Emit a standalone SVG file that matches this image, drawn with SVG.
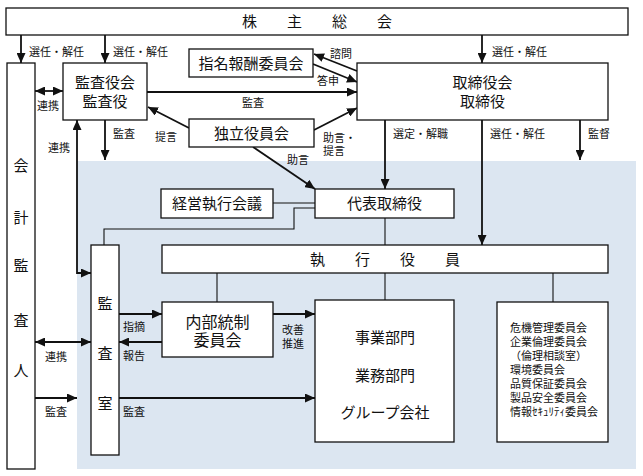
<svg xmlns="http://www.w3.org/2000/svg" width="643" height="476" viewBox="0 0 643 476">
<style>
text{font-family:"Liberation Serif","Noto Sans CJK JP",serif;fill:#111}
.box{fill:#fff;stroke:#111;stroke-width:1.3}
.t{font-size:15px;text-anchor:middle}
.t16{font-size:16px;text-anchor:middle}
.s{font-size:11px}
.c{font-size:11px}
.arr{stroke:#111;stroke-width:1.8;fill:none;marker-end:url(#ah)}
.arr2{stroke:#111;stroke-width:1.8;fill:none;marker-end:url(#ah);marker-start:url(#ah)}
.ln{stroke:#111;stroke-width:1.1;fill:none}
</style>
<defs>
<marker id="ah" markerUnits="userSpaceOnUse" markerWidth="10" markerHeight="9" refX="10" refY="4.5" orient="auto-start-reverse" viewBox="0 0 10 9">
<path d="M0,0 L10,4.5 L0,9 z" fill="#111"/>
</marker>
</defs>
<rect width="643" height="476" fill="#fff"/>
<rect id="bg" x="77" y="161" width="559" height="308" fill="#dce6f1"/>

<g id="connectors">
<line class="arr" x1="21" y1="35" x2="21" y2="63"/>
<line class="arr" x1="105" y1="35" x2="105" y2="63"/>
<line class="arr" x1="482" y1="35" x2="482" y2="63"/>
<line class="arr2" x1="35" y1="91" x2="63" y2="91"/>
<line class="arr" x1="357" y1="71" x2="314" y2="54"/>
<line class="arr" x1="313" y1="64" x2="357" y2="82"/>
<line class="arr" x1="147" y1="92" x2="357" y2="92"/>
<line class="arr" x1="189" y1="128" x2="148" y2="107"/>
<line class="arr" x1="314" y1="130" x2="357" y2="108"/>
<line class="arr" x1="253" y1="147" x2="315" y2="189"/>
<line class="arr" x1="105" y1="120" x2="105" y2="160"/>
<path class="arr2" d="M77,120 L77,273 L91,273"/>
<line class="arr" x1="385" y1="120" x2="385" y2="189"/>
<line class="arr" x1="482" y1="120" x2="482" y2="245"/>
<line class="arr" x1="580" y1="120" x2="580" y2="160"/>
<line class="ln" x1="273" y1="203" x2="315" y2="203"/>
<path class="ln" d="M315,208 L294,208 L294,229 L104,229 L104,245"/>
<line class="ln" x1="385" y1="218" x2="385" y2="245"/>
<line class="ln" x1="217" y1="273" x2="217" y2="302"/>
<line class="ln" x1="385" y1="273" x2="385" y2="300"/>
<line class="ln" x1="553" y1="273" x2="553" y2="302"/>
<line class="arr2" x1="35" y1="342" x2="91" y2="342"/>
<line class="arr" x1="35" y1="398" x2="77" y2="398"/>
<line class="arr" x1="119" y1="314" x2="162" y2="314"/>
<line class="arr" x1="162" y1="342" x2="119" y2="342"/>
<line class="arr" x1="273" y1="314" x2="315" y2="314"/>
<line class="arr" x1="119" y1="398" x2="315" y2="398"/>
</g>

<g id="labels">
<text class="s" x="29" y="56">選任・解任</text>
<text class="s" x="113" y="56">選任・解任</text>
<text class="s" x="492" y="56">選任・解任</text>
<text class="s" x="37" y="110">連携</text>
<text class="s" x="330" y="58">諮問</text>
<text class="s" x="317" y="85">答申</text>
<text class="s" x="242" y="107">監査</text>
<text class="s" x="113" y="138">監査</text>
<text class="s" x="155" y="141">提言</text>
<text class="s" x="323" y="142">助言・</text>
<text class="s" x="323" y="155">提言</text>
<text class="s" x="287" y="164">助言</text>
<text class="s" x="48" y="152">連携</text>
<text class="s" x="393" y="138">選定・解職</text>
<text class="s" x="490" y="138">選任・解任</text>
<text class="s" x="588" y="138">監督</text>
<text class="s" x="45" y="361">連携</text>
<text class="s" x="45" y="416">監査</text>
<text class="s" x="123" y="331">指摘</text>
<text class="s" x="123" y="360">報告</text>
<text class="s" x="282" y="334">改善</text>
<text class="s" x="282" y="348">推進</text>
<text class="s" x="123" y="416">監査</text>
</g>

<g id="shareholders">
<rect class="box" x="6" y="8" width="622" height="27"/>
<text class="t" x="317" y="26.5">株　　主　　総　　会</text>
</g>
<g id="auditor">
<rect class="box" x="7" y="63" width="28" height="406"/>
<text class="t" x="21" y="170.5">会</text>
<text class="t" x="21" y="222.5">計</text>
<text class="t" x="21" y="270.5">監</text>
<text class="t" x="21" y="325.5">査</text>
<text class="t" x="21" y="375.5">人</text>
</g>
<g id="kansayaku">
<rect class="box" x="63" y="63" width="84" height="57"/>
<text class="t" x="105" y="88">監査役会</text>
<text class="t" x="105" y="107">監査役</text>
</g>
<g id="nomination">
<rect class="box" x="189" y="49" width="124" height="28"/>
<text class="t" x="251" y="68.5">指名報酬委員会</text>
</g>
<g id="board">
<rect class="box" x="357" y="63" width="251" height="57"/>
<text class="t" x="482.5" y="88">取締役会</text>
<text class="t" x="482.5" y="107">取締役</text>
</g>
<g id="independent">
<rect class="box" x="189" y="119" width="125" height="28"/>
<text class="t" x="251.5" y="138.5">独立役員会</text>
</g>
<g id="mgmt">
<rect class="box" x="161" y="189" width="112" height="29"/>
<text class="t" x="217" y="208.5">経営執行会議</text>
</g>
<g id="ceo">
<rect class="box" x="315" y="189" width="139" height="29"/>
<text class="t" x="384.5" y="208.5">代表取締役</text>
</g>
<g id="audit-office">
<rect class="box" x="91" y="245" width="28" height="210"/>
<text class="t" x="105" y="308.5">監</text>
<text class="t" x="105" y="358.5">査</text>
<text class="t" x="105" y="408.5">室</text>
</g>
<g id="officers">
<rect class="box" x="162" y="245" width="446" height="28"/>
<text class="t" x="385" y="264.5">執　　行　　役　　員</text>
</g>
<g id="internal-control">
<rect class="box" x="162" y="302" width="111" height="55"/>
<text class="t16" x="217.5" y="328">内部統制</text>
<text class="t16" x="217.5" y="346">委員会</text>
</g>
<g id="divisions">
<rect class="box" x="315" y="300" width="139" height="142"/>
<text class="t" x="385" y="342.5">事業部門</text>
<text class="t" x="385" y="380.5">業務部門</text>
<text class="t" x="385" y="417.5">グループ会社</text>
</g>
<g id="committees">
<rect class="box" x="497" y="302" width="111" height="140"/>
<text class="c" x="510" y="332">危機管理委員会</text>
<text class="c" x="510" y="346">企業倫理委員会</text>
<text class="c" x="510" y="360">（倫理相談室）</text>
<text class="c" x="510" y="374">環境委員会</text>
<text class="c" x="510" y="388">品質保証委員会</text>
<text class="c" x="510" y="402">製品安全委員会</text>
<text class="c" x="510" y="416">情報ｾｷｭﾘﾃｨ委員会</text>
</g>
</svg>
